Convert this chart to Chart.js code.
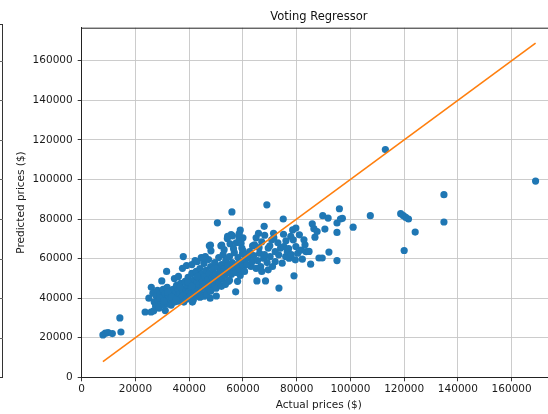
<!DOCTYPE html>
<html><head><meta charset="utf-8">
<script src="https://cdn.jsdelivr.net/npm/chart.js@4.4.0/dist/chart.umd.min.js"></script>
<style>
html,body{margin:0;padding:0;background:#fff;overflow:hidden;width:548px;height:414px;}
#wrap{position:relative;width:548px;height:414px;overflow:hidden;background:#fff;}
#c{position:absolute;left:0;top:0;width:560px;height:414px;}
#prev{position:absolute;left:-10px;top:24px;width:13px;height:354px;border:1px solid #333;box-sizing:border-box;}
.stub{position:absolute;left:0;width:3px;height:1px;background:#666;}
</style></head><body>
<div id="wrap"><div id="prev"></div><canvas id="c" width="560" height="414"></canvas></div>
<script>
const titleText = 'Voting Regressor';
const xAxisLabel = 'Actual prices ($)';
const yAxisLabel = 'Predicted prices ($)';
const xTickValues = [0, 20000, 40000, 60000, 80000, 100000, 120000, 140000, 160000];
const yTickValues = [0, 20000, 40000, 60000, 80000, 100000, 120000, 140000, 160000];

const actualPrices = [
  7900, 8800, 9800, 11400, 14200, 14600, 23600, 25800, 26800, 25000,
  25900, 31100, 31600, 29800, 34500, 37800, 37500, 42200,
  26500, 27000, 27500, 27800, 28200, 28500, 28800, 29200, 29500, 30000,
  30300, 30600, 31000, 31300, 31800, 32000, 32300, 32600, 33000, 33300,
  33600, 34000, 34300, 34600, 35000, 35300, 35600, 36000, 36200, 36500,
  36800, 37000, 37300, 37600, 38000, 38200, 38500, 38800, 39000, 39300,
  39600, 40000, 40200, 40500, 40800, 41000, 41200, 41500, 41800, 42000,
  42300, 42600, 42900, 43200, 43500, 43800, 44000, 44300, 44600, 44900,
  45200, 45500, 45800, 46000, 46300, 46600, 46900, 47200, 47500, 47800,
  48000, 48300, 48600, 48900, 49200, 49500, 49800, 50100, 50300, 50600,
  51000, 51300, 51600, 52000, 52300, 52600, 53000, 53300, 53600, 54000,
  54300, 54600, 55000, 55300, 55700, 56000, 56400, 56800, 57300, 57500,
  57800, 58200, 58600, 59000, 59400, 59800, 60200, 60600, 61000,
  29000, 30500, 32000, 33500, 35000, 36500, 37500, 39000, 40500, 42000,
  43500, 45000, 39500, 41000, 43000, 47000, 49000, 51000, 52500, 50000,
  36000, 39000, 41000, 43000, 44500, 46000, 47900, 48100, 50500, 52100,
  53000, 54200, 55200, 55600, 55900, 56500, 57500, 58600, 59000, 59300,
  59600, 60000, 60000, 61000,
  41500, 44000, 45500, 46500, 48000, 52000, 53500, 55000, 58000,
  60800, 62000, 63000, 63600, 64300, 64900, 64900, 65200, 65800, 66200,
  66600, 67000, 67700, 67900, 68100, 68400, 68900, 69400, 69400, 70100,
  70700, 71400, 72000, 73300, 73400, 74000, 74600, 75000, 75100, 75200,
  75900, 76500, 77200, 77800, 78500, 78700, 79000, 79500, 79700, 79700,
  80400, 81000, 81700, 82100, 82700, 83100, 83500, 84600, 85200, 85800,
  86400, 86800, 87600, 88300, 89500, 89700, 90500, 91700, 92000, 95000,
  95000, 95000, 95900, 96300, 97000, 101000, 107400,
  61500, 62500, 63500, 64000, 65500, 66000, 67000, 68000, 69000, 70000,
  71000, 72000, 73000, 71500, 76000, 77000, 78000,
  47500, 51800, 54300, 56100, 58600, 45000,
  113000, 118700, 119700, 120600, 121600, 124100, 120000, 134800, 134800, 168900
];

const predictedPrices = [
  21400, 22300, 22600, 22100, 30000, 22900, 33000, 33000, 33600, 40000,
  45500, 33700, 53500, 48700, 49900, 61000, 55100, 59000,
  42500, 38000, 36000, 41000, 44000, 39000, 35000, 42000, 37500, 40500,
  44500, 36500, 42000, 39000, 45500, 37000, 41000, 43500, 39500, 36500,
  42000, 44500, 40000, 38000, 42500, 46500, 40500, 44000, 38500, 42000,
  47500, 40000, 45000, 43000, 38000, 41500, 48500, 44500, 42000, 46500,
  50500, 43500, 40500, 47000, 45000, 52500, 38000, 49000, 43000, 46500,
  41000, 53500, 48000, 44500, 50500, 47000, 55000, 42500, 52000, 49000,
  45500, 57500, 51000, 47500, 54000, 44000, 49500, 59500, 52500, 40000,
  56000, 47000, 50500, 54500, 45500, 58000, 52000, 41100, 48500, 55500,
  60500, 51000, 53500, 57000, 49500, 62000, 55000, 51500, 59000, 53000,
  56500, 48500, 61000, 54500, 52000, 58000, 55500, 63000, 43200, 53000,
  57000, 60500, 55000, 51500, 58500, 62500, 56000, 53500, 59500,
  40000, 38500, 43000, 40500, 39000, 45500, 41000, 39500, 42000, 44000,
  42000, 47000, 48000, 46000, 51000, 46000, 49500, 47000, 53000, 45000,
  51000, 56500, 57000, 58500, 60500, 61000, 66800, 63900, 78100, 66800,
  64500, 70200, 67500, 72100, 83600, 65000, 68000, 70400, 74400, 67800,
  65300, 70500, 64100, 62000,
  39000, 40500, 41000, 42000, 43500, 46000, 47000, 49000, 48500,
  59400, 60700, 56000, 66400, 67000, 70500, 55100, 48700, 72800, 62700,
  56000, 68500, 60200, 76300, 71800, 48700, 87200, 54300, 65300, 61000,
  69500, 72800, 58500, 61900, 45100, 65300, 57700, 80000, 72300, 66100,
  61000, 63600, 60200, 71200, 74500, 69500, 51300, 59400, 75400, 66100,
  62700, 72000, 64300, 59700, 69500, 67000, 63500, 63600, 57200, 77600,
  75100, 70800, 73700, 60300, 60300, 81700, 74900, 80500, 63300, 73200,
  78000, 59000, 85200, 80000, 80400, 75900, 81700,
  57000, 63500, 58500, 61500, 59000, 65500, 53500, 62000, 58000, 66500,
  56000, 63500, 68000, 70500, 69000, 65000, 62000,
  66500, 66500, 71200, 71500, 72600, 60300,
  115100, 82700, 81700, 80800, 80000, 73400, 64100, 92300, 78500, 99200
];

const idealLine = [7900, 168900];

const blue = '#1f77b4', orange = '#ff7f0e';
const fam = "'DejaVu Sans', sans-serif";
const txt = '#1a1a1a';

function axisOpts(min, max, tickValues, titleTxt, titlePad, tickPad) {
  return {
    type: 'linear', min: min, max: max,
    afterBuildTicks(s) { s.ticks = tickValues.map(v => ({ value: v })); },
    ticks: { color: txt, font: { family: fam, size: 10.5 },
      padding: tickPad, maxRotation: 0, autoSkip: false, callback: v => String(v) },
    grid: { color: '#c6c6c6', lineWidth: 0.9, tickColor: '#222', tickLength: 4, drawTicks: true },
    border: { color: '#222', width: 1 },
    title: { display: true, text: titleTxt, color: txt, font: { family: fam, size: 10.5 }, padding: titlePad }
  };
}

const xOpts = axisOpts(0, 176500, xTickValues, xAxisLabel, { top: 2, bottom: 2.7 }, 1.5);
xOpts.afterFit = s => { s.height = 36.7; };
const yOpts = axisOpts(0, 176700, yTickValues, yAxisLabel, { top: 14.7, bottom: 2 }, 5);
yOpts.afterFit = s => { s.width = 81.7; };

const framePlugin = {
  id: 'frame',
  afterDatasetsDraw(chart) {
    const a = chart.chartArea, c = chart.ctx;
    c.save();
    c.strokeStyle = '#222';
    c.lineWidth = 1;
    c.beginPath();
    c.moveTo(a.left, a.top + 0.5);
    c.lineTo(a.right, a.top + 0.5);
    c.lineTo(a.right, a.bottom);
    c.stroke();
    c.restore();
  }
};

const chart = new Chart(document.getElementById('c').getContext('2d'), {
  type: 'scatter',
  data: {
    datasets: [
      { type: 'line', data: idealLine.map(v => ({x: v, y: v})), borderColor: orange, borderWidth: 1.6,
        pointRadius: 0, fill: false, order: 0 },
      { type: 'scatter', data: actualPrices.map((x, i) => ({x: x, y: predictedPrices[i]})),
        backgroundColor: blue, borderWidth: 0, pointRadius: 3.6, order: 1 }
    ]
  },
  options: {
    responsive: false, animation: false, devicePixelRatio: 1,
    layout: { padding: { left: 0, right: 2, top: 0, bottom: 0 } },
    plugins: {
      legend: { display: false }, tooltip: { enabled: false },
      title: { display: true, text: titleText, fullSize: false, color: '#111',
        font: { family: fam, size: 11.5, weight: 'normal' }, padding: { top: 9.8, bottom: 4.1 } }
    },
    scales: { x: xOpts, y: yOpts }
  },
  plugins: [framePlugin]
});

// tick stubs of the neighbouring (cropped) panel at the left edge
const wrap = document.getElementById('wrap');
yTickValues.slice(1).forEach(v => {
  const d = document.createElement('div');
  d.className = 'stub';
  d.style.top = Math.round(chart.scales.y.getPixelForValue(v)) + 'px';
  wrap.appendChild(d);
});
</script>
</body></html>
